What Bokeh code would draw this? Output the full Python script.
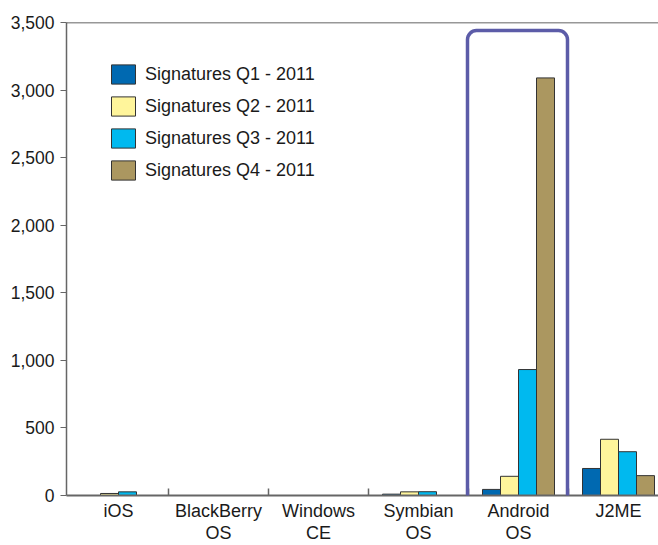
from bokeh.plotting import figure
from bokeh.models import (ColumnDataSource, Range1d, FixedTicker, SingleIntervalTicker,
                          NumeralTickFormatter, Legend, LegendItem, BoxAnnotation, Span)
from bokeh.transform import dodge
from bokeh.embed import file_html
from bokeh.resources import INLINE

categories = ["iOS", "BlackBerry OS", "Windows CE", "Symbian OS", "Android OS", "J2ME"]
tick_labels = ["iOS", "BlackBerry\nOS", "Windows\nCE", "Symbian\nOS", "Android\nOS", "J2ME"]
q1 = [0, 0, 0, 10, 45, 200]
q2 = [15, 0, 0, 27, 142, 416]
q3 = [27, 0, 0, 28, 932, 324]
q4 = [0, 0, 0, 0, 3090, 147]
series_names = ["Signatures Q1 - 2011", "Signatures Q2 - 2011",
                "Signatures Q3 - 2011", "Signatures Q4 - 2011"]
colors = ["#0069b1", "#fff59b", "#00b9ef", "#ab9760"]
highlight = "Android OS"

xc = [i + 0.5 for i in range(len(categories))]
src = ColumnDataSource(dict(x=xc, q1=q1, q2=q2, q3=q3, q4=q4))

FONT = "Liberation Sans"

p = figure(width=658, height=545, output_backend="svg", toolbar_location=None,
           x_range=Range1d(-0.02, 5.9), y_range=Range1d(0, 3500))
p.min_border_left = 66
p.min_border_right = 0
p.min_border_top = 22
p.min_border_bottom = 49
p.outline_line_color = None
p.xgrid.visible = False
p.ygrid.visible = False
p.background_fill_color = "white"
p.border_fill_color = "white"

offsets = [-0.27, -0.09, 0.09, 0.27]
renderers = []
for col, off, c in zip(["q1", "q2", "q3", "q4"], offsets, colors):
    r = p.vbar(x=dodge("x", off), top=col, width=0.18, bottom=0, source=src,
               fill_color=c, line_color="#333333", line_width=1)
    renderers.append(r)

# y axis
ya = p.yaxis[0]
ya.ticker = SingleIntervalTicker(interval=500)
ya.formatter = NumeralTickFormatter(format="0,0")
ya.major_tick_out = 6
ya.major_tick_in = 0
ya.minor_tick_out = 0
ya.minor_tick_in = 0
ya.major_label_standoff = 6
ya.axis_line_color = "#666666"
ya.axis_line_width = 1.5
ya.major_tick_line_color = "#666666"
ya.major_label_text_font = FONT
ya.major_label_text_font_size = "17.5px"
ya.major_label_text_color = "#1a1a1a"

# x axis
xa = p.xaxis[0]
xa.ticker = FixedTicker(ticks=xc, minor_ticks=list(range(1, len(categories))))
xa.major_label_overrides = {x: t for x, t in zip(xc, tick_labels)}
xa.major_tick_in = 0
xa.major_tick_out = 0
xa.minor_tick_in = 7
xa.minor_tick_out = 0
xa.minor_tick_line_color = "#666666"
xa.minor_tick_line_width = 1.5
xa.axis_line_color = "#666666"
xa.axis_line_width = 2
xa.major_label_standoff = 5
xa.major_label_text_font = FONT
xa.major_label_text_font_size = "18px"
xa.major_label_text_color = "#1a1a1a"
xa.major_label_text_line_height = 1.1

# top border line
p.add_layout(Span(location=3500, dimension="width", line_color="#333333", line_width=1.5))

# highlight box around Android
hi = categories.index(highlight)
box = BoxAnnotation(left=hi - 0.01, right=hi + 0.99, top=3440, bottom=-500,
                    fill_color=None, fill_alpha=0, line_color="#5c5ca8", line_alpha=1,
                    line_width=3.5, border_radius=9)
p.add_layout(box)

legend = Legend(items=[LegendItem(label=n, renderers=[r]) for n, r in zip(series_names, renderers)],
                location=(42, 313), orientation="vertical")
legend.glyph_width = 30
legend.glyph_height = 24
legend.label_height = 24
legend.spacing = 8
legend.padding = 0
legend.margin = 0
legend.label_standoff = 7
legend.border_line_color = None
legend.background_fill_alpha = 0
legend.label_text_font = FONT
legend.label_text_font_size = "18px"
legend.label_text_color = "#1a1a1a"
p.add_layout(legend, "center")

open("out.html", "w").write(file_html(p, INLINE))
